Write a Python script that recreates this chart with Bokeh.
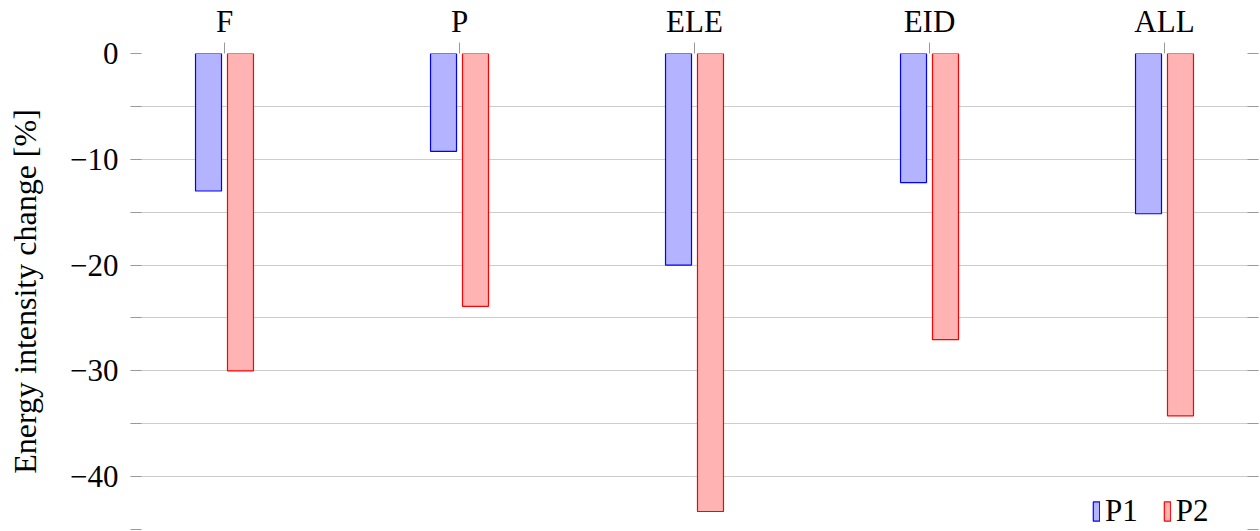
from bokeh.plotting import figure
from bokeh.models import (ColumnDataSource, FixedTicker, LinearAxis, Range1d,
                          Legend, LegendItem)
from bokeh.transform import dodge
from bokeh.embed import file_html
from bokeh.resources import INLINE

categories = ["F", "P", "ELE", "EID", "ALL"]
p1_values = [-13.0, -9.25, -20.0, -12.2, -15.15]
p2_values = [-30.0, -23.9, -43.3, -27.05, -34.25]
series_names = ["P1", "P2"]
y_ticks = [0, -5, -10, -15, -20, -25, -30, -35, -40, -45]
y_title = "Energy intensity change [%]"

FONT = "Liberation Serif"
FS = "31px"

src = ColumnDataSource(dict(
    x=list(range(len(categories))),
    p1=p1_values,
    p2=p2_values,
))

p = figure(width=1260, height=531, output_backend="svg", toolbar_location=None,
           x_range=Range1d(-0.4, 4.4), y_range=Range1d(-45, 0),
           x_axis_location="above",
           min_border_left=130, min_border_right=2, min_border_top=0,
           min_border_bottom=2)
p.outline_line_color = None
p.background_fill_color = "white"

bw = 0.1106
off = 0.068
r1 = p.vbar(x=dodge("x", -off, range=p.x_range), top=0, bottom="p1", width=bw,
            source=src, fill_color="#b3b3ff", line_color="#0000ff", line_width=1.2)
r2 = p.vbar(x=dodge("x", off, range=p.x_range), top=0, bottom="p2", width=bw,
            source=src, fill_color="#ffb3b3", line_color="#ff0000", line_width=1.2)

# top category axis
xa = p.xaxis[0]
xa.ticker = FixedTicker(ticks=list(range(len(categories))))
xa.major_label_overrides = {i: c for i, c in enumerate(categories)}
xa.axis_line_color = None
xa.major_tick_in = 0
xa.major_tick_out = 11
xa.major_tick_line_color = "#999999"
xa.minor_tick_line_color = None
xa.major_label_standoff = 4
xa.major_label_text_font = FONT
xa.major_label_text_font_size = FS
xa.major_label_text_color = "black"
p.xgrid.grid_line_color = None

def fmt(v):
    if v % 10 != 0:
        return ""
    return ("\u2212" + str(abs(v))) if v < 0 else str(v)

ya = p.yaxis[0]
ya.ticker = FixedTicker(ticks=y_ticks)
ya.major_label_overrides = {v: fmt(v) for v in y_ticks}
ya.axis_line_color = None
ya.major_tick_in = 11
ya.major_tick_out = 0
ya.major_tick_line_color = "#999999"
ya.minor_tick_line_color = None
ya.major_label_standoff = 12
ya.major_label_text_font = FONT
ya.major_label_text_font_size = FS
ya.major_label_text_color = "black"
ya.axis_label = y_title
ya.axis_label_text_font = FONT
ya.axis_label_text_font_size = "32px"
ya.axis_label_text_font_style = "normal"
ya.axis_label_text_color = "black"
ya.axis_label_standoff = 24

ra = LinearAxis(ticker=FixedTicker(ticks=y_ticks))
ra.major_label_overrides = {v: "" for v in y_ticks}
ra.major_label_text_font_size = "0px"
ra.major_label_standoff = 0
ra.axis_line_color = None
ra.major_tick_in = 11
ra.major_tick_out = 0
ra.major_tick_line_color = "#999999"
ra.minor_tick_line_color = None
p.add_layout(ra, "right")

p.ygrid.ticker = FixedTicker(ticks=y_ticks)
p.ygrid.grid_line_color = "#cccccc"
p.ygrid.grid_line_width = 1

legend = Legend(items=[LegendItem(label=series_names[0], renderers=[r1]),
                       LegendItem(label=series_names[1], renderers=[r2])],
                orientation="horizontal", location=(962, 0),
                glyph_width=8, glyph_height=24, label_standoff=5, spacing=25,
                padding=2, margin=0, border_line_color=None,
                background_fill_alpha=0,
                label_text_font=FONT, label_text_font_size=FS,
                label_text_color="black")
p.add_layout(legend, "center")

open("out.html", "w").write(file_html(p, INLINE))
